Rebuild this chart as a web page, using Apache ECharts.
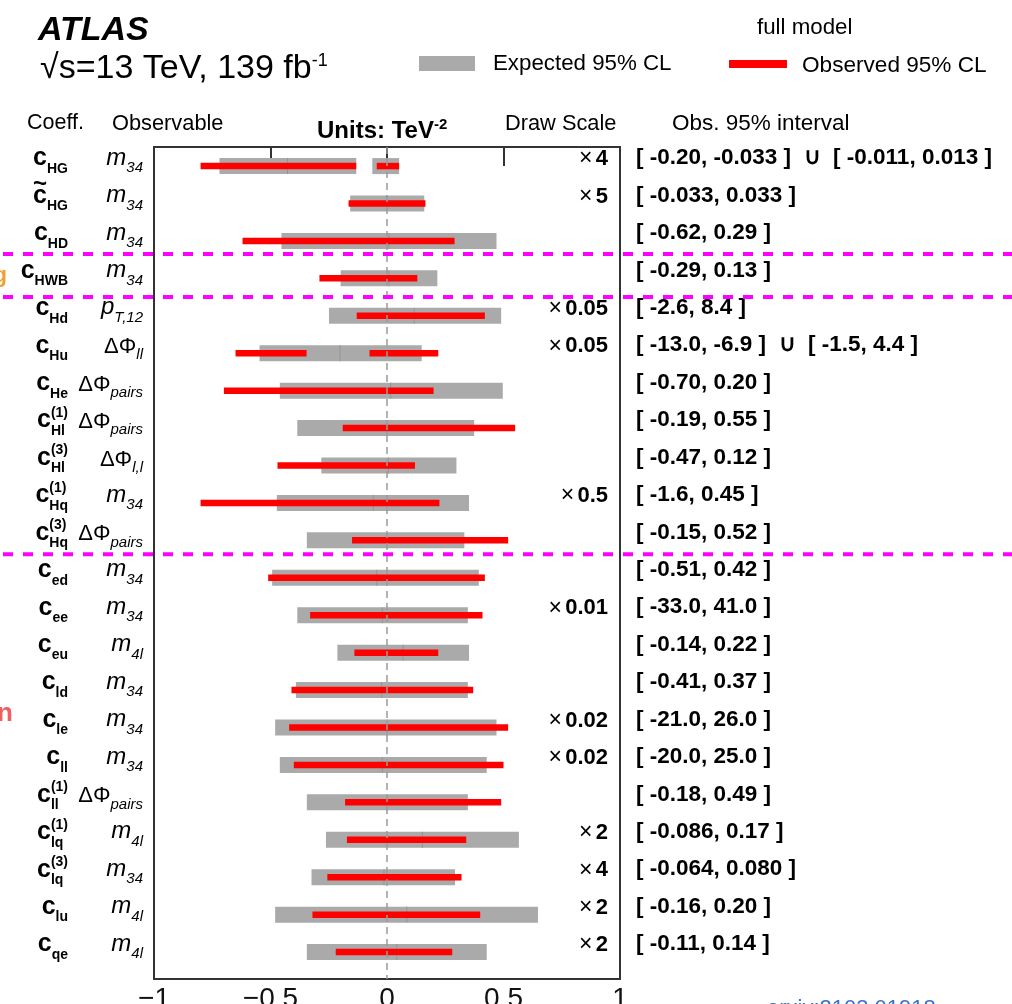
<!DOCTYPE html>
<html>
<head>
<meta charset="utf-8">
<script src="https://cdn.jsdelivr.net/npm/echarts@6/dist/echarts.min.js"></script>
<style>
  html, body { margin: 0; padding: 0; background: #fff; }
  #chart { width: 1012px; height: 1004px; }
</style>
</head>
<body>
<div id="chart"></div>
<script>
const FONT = '"Liberation Sans", Arial, Helvetica, sans-serif';

// Wilson coefficients, top to bottom
const coeffSub = ['HG', 'HG', 'HD', 'HWB', 'Hd', 'Hu', 'He', 'Hl', 'Hl', 'Hq', 'Hq',
                  'ed', 'ee', 'eu', 'ld', 'le', 'll', 'll', 'lq', 'lq', 'lu', 'qe'];
const coeffSup = ['', '', '', '', '', '', '', '(1)', '(3)', '(1)', '(3)',
                  '', '', '', '', '', '', '(1)', '(1)', '(3)', '', ''];
const coeffTilde = [false, true, false, false, false, false, false, false, false, false, false,
                    false, false, false, false, false, false, false, false, false, false, false];

// Observable used for each coefficient
const obsMain = ['m', 'm', 'm', 'm', 'p', 'ΔΦ', 'ΔΦ', 'ΔΦ', 'ΔΦ', 'm', 'ΔΦ',
                 'm', 'm', 'm', 'm', 'm', 'm', 'ΔΦ', 'm', 'm', 'm', 'm'];
const obsSub = ['34', '34', '34', '34', 'T,12', 'll', 'pairs', 'pairs', 'l,l', '34', 'pairs',
                '34', '34', '4l', '34', '34', '34', 'pairs', '4l', '34', '4l', '4l'];

// Factor applied to each row before drawing
const drawScale = [4, 5, 1, 1, 0.05, 0.05, 1, 1, 1, 0.5, 1,
                   1, 0.01, 1, 1, 0.02, 0.02, 1, 2, 4, 2, 2];

// Observed 95% CL intervals in TeV^-2 (one or two pieces per coefficient)
const observed = [
  [['-0.20', '-0.033'], ['-0.011', '0.013']],
  [['-0.033', '0.033']],
  [['-0.62', '0.29']],
  [['-0.29', '0.13']],
  [['-2.6', '8.4']],
  [['-13.0', '-6.9'], ['-1.5', '4.4']],
  [['-0.70', '0.20']],
  [['-0.19', '0.55']],
  [['-0.47', '0.12']],
  [['-1.6', '0.45']],
  [['-0.15', '0.52']],
  [['-0.51', '0.42']],
  [['-33.0', '41.0']],
  [['-0.14', '0.22']],
  [['-0.41', '0.37']],
  [['-21.0', '26.0']],
  [['-20.0', '25.0']],
  [['-0.18', '0.49']],
  [['-0.086', '0.17']],
  [['-0.064', '0.080']],
  [['-0.16', '0.20']],
  [['-0.11', '0.14']]
];

// Expected 95% CL intervals, already multiplied by the draw scale
const expectedDrawn = [
  [[-0.719, -0.132], [-0.063, 0.052]],
  [[-0.158, 0.160]],
  [[-0.453, 0.470]],
  [[-0.199, 0.216]],
  [[-0.249, 0.490]],
  [[-0.547, 0.149]],
  [[-0.460, 0.497]],
  [[-0.385, 0.374]],
  [[-0.282, 0.298]],
  [[-0.473, 0.352]],
  [[-0.344, 0.332]],
  [[-0.493, 0.394]],
  [[-0.385, 0.347]],
  [[-0.213, 0.352]],
  [[-0.391, 0.347]],
  [[-0.480, 0.470]],
  [[-0.460, 0.428]],
  [[-0.344, 0.347]],
  [[-0.262, 0.566]],
  [[-0.324, 0.292]],
  [[-0.480, 0.648]],
  [[-0.344, 0.428]]
];

// Expected central value inside each grey band (drawn units)
const expectedCentre = [-0.427, 0.0, 0.009, 0.009, 0.117, -0.202, 0.016, 0.0, 0.006, -0.059, 0.0,
                        -0.044, -0.020, 0.069, -0.023, 0.0, -0.020, 0.0, 0.152, -0.013, 0.085, 0.042];

// Group boundaries, in row units
const separators = [2.35, 3.5, 10.37];

// x-axis tick labels from -1 to 1 in steps of 0.5
const xTickLabels = ['−1', '−0.5', '0', '0.5', '1'];

const mctx = document.createElement('canvas').getContext('2d');
function textWidth(str, weight, size, style) {
  mctx.font = (style || 'normal') + ' ' + (weight || 'normal') + ' ' + size + 'px ' + FONT;
  return mctx.measureText(str).width;
}

function txt(x, y, text, opts) {
  return {
    type: 'text', x: x, y: y, silent: true,
    style: Object.assign({
      text: text, fill: '#000', fontFamily: FONT, fontSize: 22,
      fontWeight: 'normal', fontStyle: 'normal', align: 'left', verticalAlign: 'middle'
    }, opts || {})
  };
}

const expData = [];
expectedDrawn.forEach((pieces, i) => pieces.forEach(p => expData.push([i, p[0], p[1]])));
const obsData = [];
observed.forEach((pieces, i) => pieces.forEach(p =>
  obsData.push([i, parseFloat(p[0]) * drawScale[i], parseFloat(p[1]) * drawScale[i]])));
const centreData = expectedCentre.map((v, i) => [i, v]);
const rowData = coeffSub.map((_, i) => [0, i]);

function barRenderer(h, color) {
  return function (params, api) {
    const row = api.value(0);
    const a = api.coord([api.value(1), row]);
    const b = api.coord([api.value(2), row]);
    return {
      type: 'rect',
      shape: { x: a[0], y: a[1] - h / 2, width: b[0] - a[0], height: h },
      style: { fill: color }
    };
  };
}

function labelRenderer(params, api) {
  const i = params.dataIndex;
  const yc = api.coord([0, i])[1];
  const xl = api.coord([-1, i])[0];
  const xr = api.coord([1, i])[0];
  const ch = [];

  // coefficient name: c with subscript / superscript stacked at the right
  const subW = textWidth(coeffSub[i], 'bold', 14);
  const supW = coeffSup[i] ? textWidth(coeffSup[i], 'bold', 14) : 0;
  const stackX = xl - 86 - Math.max(subW, supW);
  ch.push(txt(stackX, yc - 7.5, 'c', { fontWeight: 'bold', fontSize: 25, align: 'right' }));
  ch.push(txt(stackX, yc + 3, coeffSub[i], { fontWeight: 'bold', fontSize: 14 }));
  if (coeffSup[i]) ch.push(txt(stackX, yc - 15, coeffSup[i], { fontWeight: 'bold', fontSize: 14 }));
  if (coeffTilde[i]) ch.push(txt(stackX - 7, yc - 19, '~', { fontWeight: 'bold', fontSize: 24, align: 'center' }));

  // observable
  const osW = textWidth(obsSub[i], 'normal', 15, 'italic');
  const osX = xl - 11 - osW;
  const isGreek = obsMain[i] === 'ΔΦ';
  ch.push(txt(osX, yc + 2, obsSub[i], { fontStyle: 'italic', fontSize: 15 }));
  if (isGreek) {
    ch.push(txt(osX, yc - 6, obsMain[i], { fontSize: 22, align: 'right' }));
  } else {
    ch.push(txt(osX, yc - 8, obsMain[i], { fontStyle: 'italic', fontSize: 24, align: 'right' }));
  }

  // draw scale
  if (drawScale[i] !== 1) {
    ch.push({
      type: 'text', x: xr - 12, y: yc - 7, silent: true,
      style: {
        text: '{a|×} {b|' + drawScale[i] + '}', align: 'right', verticalAlign: 'middle',
        fontFamily: FONT,
        rich: {
          a: { fontFamily: FONT, fontSize: 23, fontWeight: 'normal', fill: '#000' },
          b: { fontFamily: FONT, fontSize: 22, fontWeight: 'bold', fill: '#000' }
        }
      }
    });
  }

  // observed interval text
  const label = observed[i].map(p => '[ ' + p[0] + ', ' + p[1] + ' ]').join('  ∪  ');
  ch.push(txt(xr + 16, yc - 8, label, { fontWeight: 'bold', fontSize: 22.5 }));

  return { type: 'group', children: ch };
}

function sepRenderer(params, api) {
  const y = api.coord([0, api.value(1)])[1];
  return {
    type: 'line',
    shape: { x1: 3, y1: y, x2: 1012, y2: y },
    style: { stroke: '#ff00ff', lineWidth: 4, lineDash: [10, 10] }
  };
}

function centreRenderer(params, api) {
  const p = api.coord([api.value(1), api.value(0)]);
  return {
    type: 'line',
    shape: { x1: p[0], y1: p[1] - 8, x2: p[0], y2: p[1] + 8 },
    style: { stroke: '#959595', lineWidth: 1 }
  };
}

const chart = echarts.init(document.getElementById('chart'));

const xAxisBase = {
  type: 'value', min: -1, max: 1, interval: 0.5,
  axisLine: { show: false },
  splitLine: { show: false },
  axisTick: { show: true, inside: true, length: 14, lineStyle: { color: '#333', width: 2 } }
};

const option = {
  backgroundColor: '#fff',
  animation: false,
  grid: {
    left: 154, right: 392, top: 147, bottom: 25,
    containLabel: false, outerBoundsMode: 'none',
    show: true, borderColor: '#333', borderWidth: 2, backgroundColor: 'transparent'
  },
  xAxis: [
    Object.assign({}, xAxisBase, {
      position: 'bottom',
      axisLabel: {
        show: true, fontFamily: FONT, fontSize: 28, color: '#111', margin: 6,
        formatter: v => xTickLabels[Math.round((v + 1) / 0.5)]
      }
    }),
    Object.assign({}, xAxisBase, { position: 'top', axisLabel: { show: false } })
  ],
  yAxis: {
    type: 'value', inverse: true, min: -0.51, max: 21.72, show: false
  },
  graphic: [
    txt(38, 30.5, 'ATLAS', { fontWeight: 'bold', fontStyle: 'italic', fontSize: 34 }),
    txt(40, 69, '√s=13 TeV, 139 fb', { fontSize: 34 }),
    txt(40 + textWidth('√s=13 TeV, 139 fb', 'normal', 34), 61, '-1', { fontSize: 18 }),
    { type: 'rect', shape: { x: 419, y: 56, width: 56, height: 15 }, style: { fill: '#aaaaaa' } },
    txt(493, 63.5, 'Expected 95% CL', { fontSize: 22.3 }),
    { type: 'rect', shape: { x: 729, y: 60, width: 58, height: 8 }, style: { fill: '#ff0000' } },
    txt(802, 65.5, 'Observed 95% CL', { fontSize: 22.6 }),
    txt(757, 27.5, 'full model', { fontSize: 22.3 }),
    txt(27, 123.5, 'Coeff.', { fontSize: 21.5 }),
    txt(112, 123.5, 'Observable', { fontSize: 21.8 }),
    txt(317, 131.5, 'Units: TeV', { fontWeight: 'bold', fontSize: 24 }),
    txt(317 + textWidth('Units: TeV', 'bold', 24), 124.5, '-2', { fontWeight: 'bold', fontSize: 15 }),
    txt(505, 123.5, 'Draw Scale', { fontSize: 21.8 }),
    txt(672, 123.5, 'Obs. 95% interval', { fontSize: 22.5 }),
    txt(7, 276, 'g', { fontWeight: 'bold', fontSize: 22, fill: '#f0a030', align: 'right' }),
    txt(13, 714, 'n', { fontWeight: 'bold', fontSize: 26, fill: '#ee6060', align: 'right' }),
    txt(767, 1009, 'arxiv:2103.01918', { fontSize: 22, fill: '#3b6fd0' })
  ],
  series: [
    {
      name: 'Expected 95% CL', type: 'custom', z: 2,
      data: expData, encode: { x: [1, 2], y: 0 },
      renderItem: barRenderer(16, '#aaaaaa')
    },
    {
      name: 'Expected centre', type: 'custom', z: 3,
      data: centreData, encode: { x: 1, y: 0 },
      renderItem: centreRenderer,
      markLine: {
        silent: true, symbol: 'none', label: { show: false },
        lineStyle: { color: '#9a9a9a', width: 1.5, type: [7, 5] },
        data: [{ xAxis: 0 }]
      }
    },
    {
      name: 'Observed 95% CL', type: 'custom', z: 4,
      data: obsData, encode: { x: [1, 2], y: 0 },
      renderItem: barRenderer(6.5, '#ff0000')
    },
    {
      name: 'Row labels', type: 'custom', z: 5, clip: false,
      data: rowData, encode: { x: 0, y: 1 },
      renderItem: labelRenderer
    },
    {
      name: 'Separators', type: 'custom', z: 6, clip: false,
      data: separators.map(v => [0, v]), encode: { x: 0, y: 1 },
      renderItem: sepRenderer
    }
  ]
};

chart.setOption(option);
</script>
</body>
</html>
